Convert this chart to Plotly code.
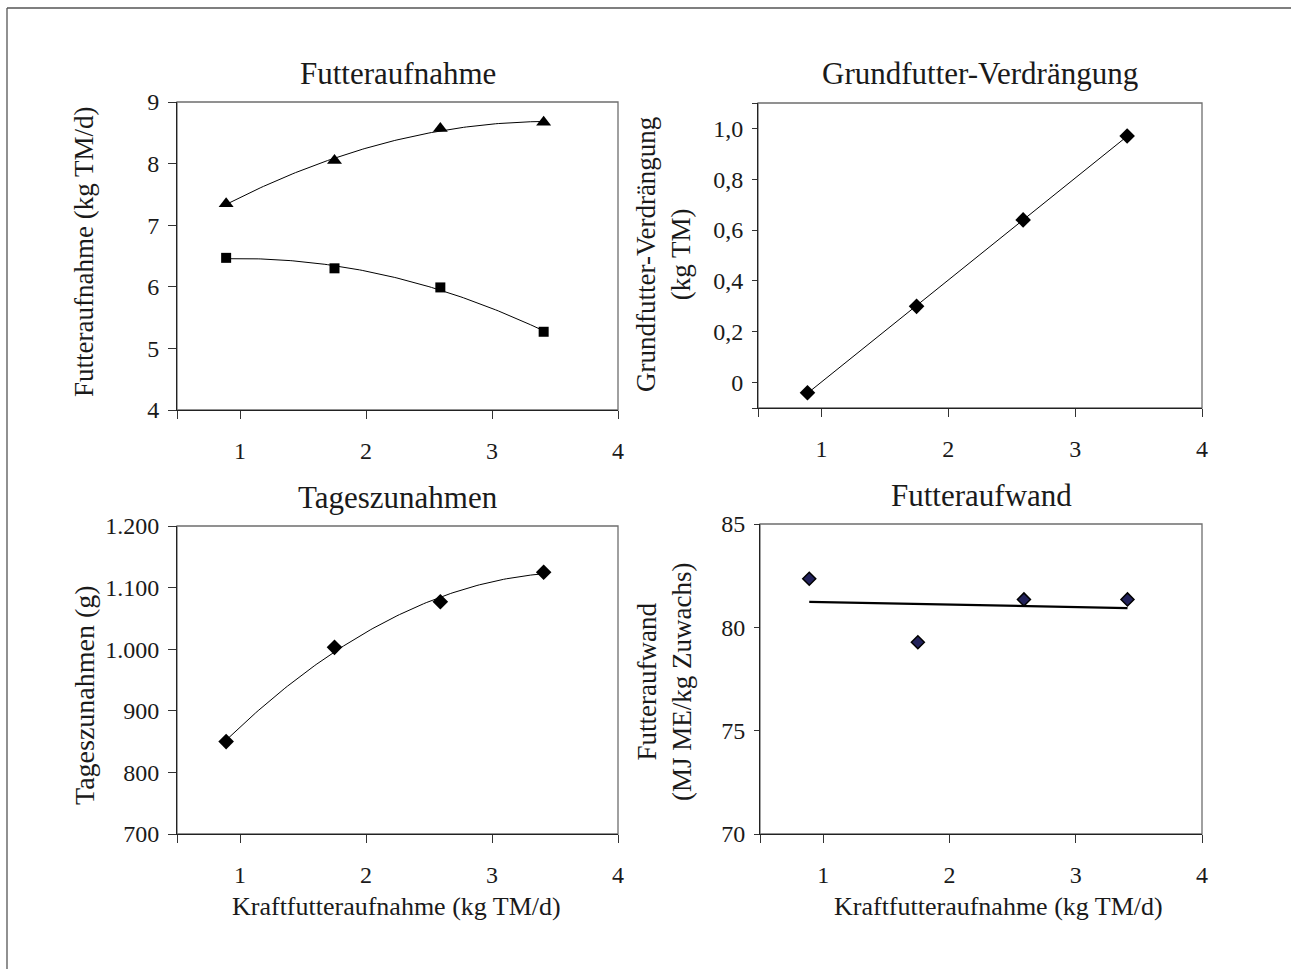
import numpy as np
import plotly.graph_objects as go

# ---------------- data ----------------
kraftfutter = [0.89, 1.75, 2.59, 3.41]          # Kraftfutteraufnahme (kg TM/d)
futter_gesamt = [7.35, 8.05, 8.57, 8.67]        # triangles
grundfutter = [6.47, 6.30, 5.99, 5.27]          # squares
verdraengung = [-0.04, 0.30, 0.64, 0.97]        # Grundfutter-Verdrängung (kg TM)
tageszunahmen = [850, 1003, 1077, 1125]         # g
futteraufwand = [82.35, 79.28, 81.35, 81.35]    # MJ ME/kg Zuwachs

x_tickvals = [0.5, 1, 2, 3, 4]
x_ticktext = ["", "1", "2", "3", "4"]
y1_tickvals = [4, 5, 6, 7, 8, 9]
y1_ticktext = ["4", "5", "6", "7", "8", "9"]
y2_tickvals = [-0.1, 0, 0.2, 0.4, 0.6, 0.8, 1.0, 1.1]
y2_ticktext = ["", "0", "0,2", "0,4", "0,6", "0,8", "1,0", ""]
y3_tickvals = [700, 800, 900, 1000, 1100, 1200]
y3_ticktext = ["700", "800", "900", "1.000", "1.100", "1.200"]
y4_tickvals = [70, 75, 80, 85]
y4_ticktext = ["70", "75", "80", "85"]

titles = ["Futteraufnahme", "Grundfutter-Verdrängung", "Tageszunahmen", "Futteraufwand"]
ytitles = ["Futteraufnahme (kg TM/d)", "Grundfutter-Verdrängung<br>(kg TM)",
           "Tageszunahmen (g)", "Futteraufwand<br>(MJ ME/kg Zuwachs)"]
xtitle = "Kraftfutteraufnahme (kg TM/d)"

W, H = 1291, 969
FONT = "Liberation Serif"
TXT = "#1a1a1a"
TICK_SIZE = 24
TITLE_SIZE = 31
XTITLE_SIZE = 26

def px(v):
    return v / W

def py(v):
    return 1 - v / H

def trend(xs, ys, deg):
    c = np.polyfit(xs, ys, deg)
    xx = np.linspace(min(xs), max(xs), 120)
    return xx, np.polyval(c, xx)

fig = go.Figure()

# plot areas in pixels (left, right, top, bottom)
boxes = [(177, 618, 102, 410), (758, 1202, 103, 408),
         (177, 618, 526, 834), (760, 1202, 524, 834)]
axis_ids = [("x", "y"), ("x2", "y2"), ("x3", "y3"), ("x4", "y4")]

# Plot 1
xx, yy = trend(kraftfutter, futter_gesamt, 2)
fig.add_trace(go.Scatter(x=xx, y=yy, mode="lines", line=dict(color="black", width=1),
                         xaxis="x", yaxis="y", hoverinfo="skip"))
xx, yy = trend(kraftfutter, grundfutter, 2)
fig.add_trace(go.Scatter(x=xx, y=yy, mode="lines", line=dict(color="black", width=1),
                         xaxis="x", yaxis="y", hoverinfo="skip"))
fig.add_trace(go.Scatter(x=kraftfutter, y=futter_gesamt, mode="markers",
                         marker=dict(symbol="triangle-up", size=13, color="black"),
                         xaxis="x", yaxis="y"))
fig.add_trace(go.Scatter(x=kraftfutter, y=grundfutter, mode="markers",
                         marker=dict(symbol="square", size=10, color="black"),
                         xaxis="x", yaxis="y"))

# Plot 2
xx, yy = trend(kraftfutter, verdraengung, 1)
fig.add_trace(go.Scatter(x=xx, y=yy, mode="lines", line=dict(color="black", width=1),
                         xaxis="x2", yaxis="y2", hoverinfo="skip"))
fig.add_trace(go.Scatter(x=kraftfutter, y=verdraengung, mode="markers",
                         marker=dict(symbol="diamond", size=12, color="black"),
                         xaxis="x2", yaxis="y2"))

# Plot 3
xx, yy = trend(kraftfutter, tageszunahmen, 2)
fig.add_trace(go.Scatter(x=xx, y=yy, mode="lines", line=dict(color="black", width=1),
                         xaxis="x3", yaxis="y3", hoverinfo="skip"))
fig.add_trace(go.Scatter(x=kraftfutter, y=tageszunahmen, mode="markers",
                         marker=dict(symbol="diamond", size=12, color="black"),
                         xaxis="x3", yaxis="y3"))

# Plot 4
xx, yy = trend(kraftfutter, futteraufwand, 1)
fig.add_trace(go.Scatter(x=xx, y=yy, mode="lines", line=dict(color="black", width=2.2),
                         xaxis="x4", yaxis="y4", hoverinfo="skip"))
fig.add_trace(go.Scatter(x=kraftfutter, y=futteraufwand, mode="markers",
                         marker=dict(symbol="diamond", size=10, color="#22225a",
                                     line=dict(color="black", width=1.5)),
                         xaxis="x4", yaxis="y4"))

yranges = [[4, 9], [-0.1, 1.1], [700, 1200], [70, 85]]
ytv = [y1_tickvals, y2_tickvals, y3_tickvals, y4_tickvals]
ytt = [y1_ticktext, y2_ticktext, y3_ticktext, y4_ticktext]
yticklen = [8, 5, 8, 5]

layout = dict(
    template="none",
    width=W, height=H, showlegend=False, autosize=False,
    paper_bgcolor="white", plot_bgcolor="white",
    margin=dict(l=0, r=0, t=0, b=0, pad=0, autoexpand=False),
    font=dict(family=FONT, size=TICK_SIZE, color=TXT),
)

shapes = []
annotations = []
for i, (l, r, t, b) in enumerate(boxes):
    xa = "xaxis" if i == 0 else f"xaxis{i+1}"
    ya = "yaxis" if i == 0 else f"yaxis{i+1}"
    xid, yid = axis_ids[i]
    layout[xa] = dict(domain=[px(l), px(r)], range=[0.5, 4], anchor=yid,
                      tickvals=x_tickvals, ticktext=x_ticktext, automargin=False,
                      ticks="outside", ticklen=8, tickcolor="#333", tickwidth=1,
                      showgrid=False, zeroline=False, showline=True,
                      linecolor="#222", linewidth=1, ticklabelstandoff=11,
                      tickfont=dict(family=FONT, size=TICK_SIZE, color=TXT))
    layout[ya] = dict(domain=[py(b), py(t)], range=yranges[i], anchor=xid,
                      tickvals=ytv[i], ticktext=ytt[i], automargin=False,
                      ticks="outside", ticklen=yticklen[i], tickcolor="#333", tickwidth=1,
                      showgrid=False, zeroline=False, showline=True,
                      linecolor="#222", linewidth=1, ticklabelstandoff=4,
                      tickfont=dict(family=FONT, size=TICK_SIZE, color=TXT))
    # plot-area frame
    shapes.append(dict(type="rect", xref="paper", yref="paper",
                       x0=px(l), x1=px(r), y0=py(b), y1=py(t),
                       line=dict(color="#6e6e6e", width=1.3), layer="below"))
    # subplot title
    annotations.append(dict(text=titles[i], xref="paper", yref="paper",
                            x=px((l + r) / 2), y=py(t - 29), showarrow=False,
                            xanchor="center", yanchor="middle",
                            font=dict(family=FONT, size=TITLE_SIZE, color=TXT)))

# y-axis titles
ytitle_pos = [(84, 252, 27), (664, 255, 27), (84, 695, 28), (664, 682, 27)]
for txt, (x, y, s) in zip(ytitles, ytitle_pos):
    annotations.append(dict(text=txt, xref="paper", yref="paper", x=px(x), y=py(y),
                            textangle=-90, showarrow=False, xanchor="center", yanchor="middle",
                            font=dict(family=FONT, size=s, color=TXT)))
# x-axis titles
for x in (397, 998):
    annotations.append(dict(text=xtitle, xref="paper", yref="paper", x=px(x), y=py(906),
                            showarrow=False, xanchor="center", yanchor="middle",
                            font=dict(family=FONT, size=XTITLE_SIZE, color=TXT)))

# outer frame (only top and left edges fall inside the picture)
shapes.append(dict(type="line", xref="paper", yref="paper",
                   x0=px(7), x1=1, y0=py(8), y1=py(8),
                   line=dict(color="#555", width=1.3)))
shapes.append(dict(type="line", xref="paper", yref="paper",
                   x0=px(7), x1=px(7), y0=0, y1=py(8),
                   line=dict(color="#555", width=1.3)))

layout["shapes"] = shapes
layout["annotations"] = annotations
fig.update_layout(**layout)

fig.write_html("out.html", config={"displayModeBar": False},
               post_script="document.body.style.margin='0px';")
